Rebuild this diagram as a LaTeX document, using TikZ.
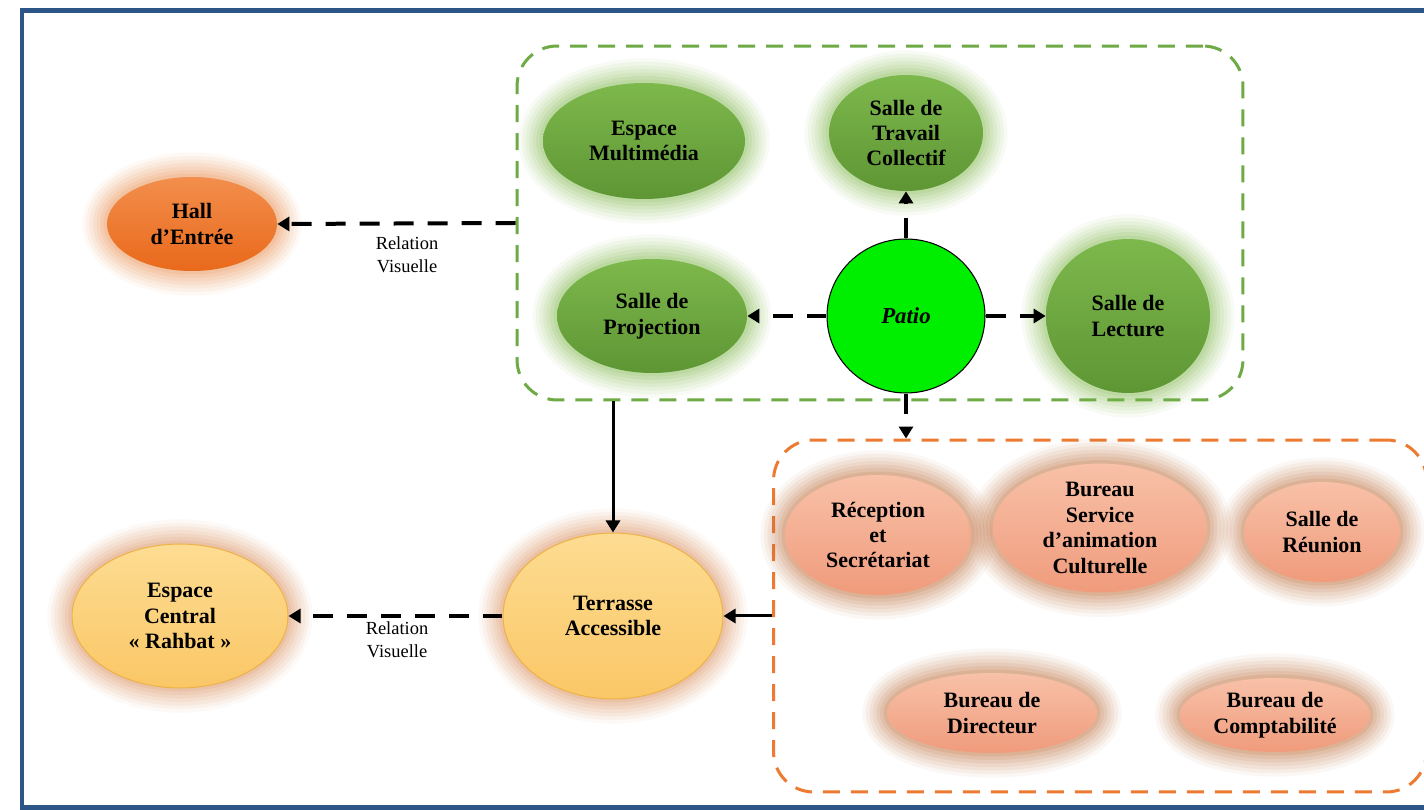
\documentclass[tikz,border=0pt]{standalone}
\usepackage{fontspec}
\setmainfont{Liberation Serif}
\usetikzlibrary{shapes.geometric,arrows.meta}
\definecolor{framec}{HTML}{2C5687}
\definecolor{zonegreen}{HTML}{6EAA46}
\definecolor{zoneorange}{HTML}{EC7A30}
\definecolor{greentop}{HTML}{7DB84C}
\definecolor{greenbot}{HTML}{5E9634}
\definecolor{glowgreen}{HTML}{7DB94A}
\definecolor{halltop}{HTML}{F28E4C}
\definecolor{hallbot}{HTML}{E9691B}
\definecolor{glowhall}{HTML}{EE8A45}
\definecolor{sandtop}{HTML}{FDDC92}
\definecolor{sandbot}{HTML}{FAC766}
\definecolor{sandline}{HTML}{EDB24A}
\definecolor{glowsand}{HTML}{D98A58}
\definecolor{salmontop}{HTML}{F8C1A8}
\definecolor{salmonbot}{HTML}{F09B7C}
\definecolor{glowsalmon}{HTML}{C06A36}
\definecolor{patiogreen}{HTML}{00EE00}

\tikzset{
  glow/.style={preaction={draw=#1,line width=28pt,opacity=.05},
    preaction={draw=#1,line width=24pt,opacity=.07},
    preaction={draw=#1,line width=20pt,opacity=.08},
    preaction={draw=#1,line width=16pt,opacity=.09},
    preaction={draw=#1,line width=12pt,opacity=.1},
    preaction={draw=#1,line width=8pt,opacity=.12},
    preaction={draw=#1,line width=4pt,opacity=.15}},
  room/.style={ellipse,inner sep=0pt,align=center,
    font=\bfseries\fontsize{12.5}{14.5}\selectfont},
  greenroom/.style={room,glow=glowgreen,top color=greentop,bottom color=greenbot},
  adminroom/.style={room,glow=glowsalmon,top color=salmontop,bottom color=salmonbot},
  outroom/.style={room,glow=glowsand,top color=sandtop,bottom color=sandbot,
    draw=sandline,line width=0.6pt},
  zone/.style={rectangle,draw=#1,rounded corners=0.8cm,line width=0.06cm,
    dash pattern=on 0.34cm off 0.22cm},
  link/.style={line width=0.08cm,dash pattern=on 0.4cm off 0.28cm,
    -{Triangle[length=0.24cm,width=0.28cm]}},
  flow/.style={line width=0.06cm,-{Triangle[length=0.24cm,width=0.28cm]}},
  note/.style={align=center,font=\fontsize{10.5}{13}\selectfont},
}

\begin{document}
\begin{tikzpicture}[x=0.02cm,y=-0.02cm]
  \useasboundingbox (0,0) rectangle (1424,810);
  \fill[white] (0,0) rectangle (1424,810);
  \draw[framec,line width=0.1cm] (22,11) rectangle (1440,807);

  % the two grouped zones
  \node[zone=zonegreen,minimum width=14.52cm,minimum height=7.08cm] (patiozone) at (880,223) {};
  \node[zone=zoneorange,minimum width=13.06cm,minimum height=7.04cm] (adminzone) at (1100,616) {};

  % rooms around the patio
  \node[greenroom,minimum width=4.04cm,minimum height=2.32cm] (multimedia) at (644,141) {Espace\\Multimédia};
  \node[greenroom,minimum width=3.08cm,minimum height=2.32cm] (travail) at (906,133) {Salle de\\Travail\\Collectif};
  \node[greenroom,minimum width=3.8cm,minimum height=2.28cm] (projection) at (652,316) {Salle de\\Projection};
  \node[greenroom,minimum width=3.28cm,minimum height=3.08cm] (lecture) at (1128,316) {Salle de\\Lecture};
  \node[ellipse,fill=patiogreen,draw=black,line width=0.6pt,minimum width=3.16cm,minimum height=3.08cm,
    font=\bfseries\itshape\fontsize{13}{15}\selectfont] (patio) at (906,316) {Patio};

  % outside spaces
  \node[room,glow=glowhall,top color=halltop,bottom color=hallbot,minimum width=3.4cm,minimum height=1.88cm] (hall) at (192,224) {Hall\\d’Entrée};
  \node[outroom,minimum width=4.4cm,minimum height=3.32cm] (terrasse) at (613,616) {Terrasse\\Accessible};
  \node[outroom,minimum width=4.32cm,minimum height=2.88cm] (rahbat) at (180,616) {Espace\\Central\\« Rahbat »};

  % administration
  \node[adminroom,minimum width=3.72cm,minimum height=2.4cm] (reception) at (878,535) {Réception\\et\\Secrétariat};
  \node[adminroom,minimum width=4.28cm,minimum height=2.48cm] (animation) at (1100,528) {Bureau\\Service\\d’animation\\Culturelle};
  \node[adminroom,minimum width=3.12cm,minimum height=2.0cm] (reunion) at (1322,532) {Salle de\\Réunion};
  \node[adminroom,minimum width=4.2cm,minimum height=1.6cm] (directeur) at (992,713) {Bureau de\\Directeur};
  \node[adminroom,minimum width=3.8cm,minimum height=1.48cm] (comptabilite) at (1275,715) {Bureau de\\Comptabilité};

  % connectors
  \draw[link] (patio.north) -- (travail.south);
  \draw[link] (patio.west) -- (projection.east);
  \draw[link] (patio.east) -- (lecture.west);
  \draw[link] (patio.south) -- (patio.south |- adminzone.north);
  \draw[link] (patiozone.west) -- (hall.east);
  \draw[link] (terrasse.west) -- (rahbat.east);
  \draw[flow] (patiozone.south -| terrasse.north) -- (terrasse.north);
  \draw[flow] (adminzone.west) -- (terrasse.east);
  \node[note] (relhall) at (407,255) {Relation\\Visuelle};
  \node[note] (relrahbat) at (397,640) {Relation\\Visuelle};
\end{tikzpicture}
\end{document}
